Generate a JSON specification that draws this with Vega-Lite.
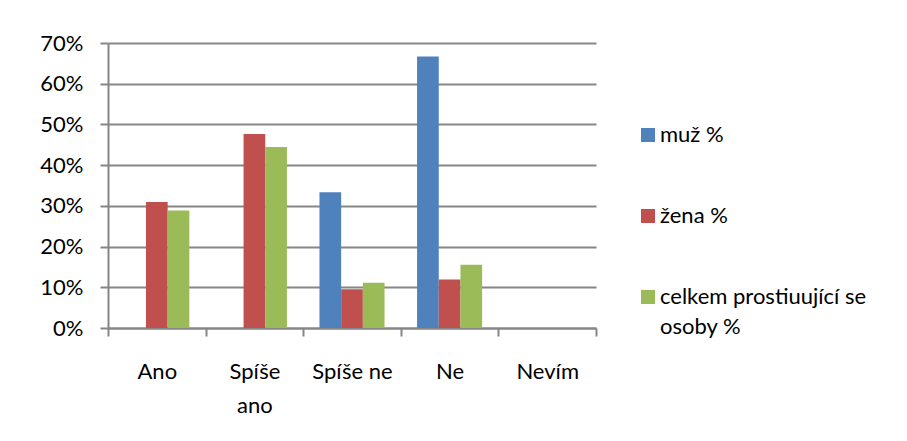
{
  "$schema": "https://vega.github.io/schema/vega-lite/v6.json",
  "autosize": "none",
  "width": 488,
  "height": 285,
  "padding": {"left": 108, "top": 43, "right": 311, "bottom": 113},
  "background": "white",
  "config": {
    "font": "Lato",
    "view": {"stroke": null},
    "axis": {"labelFont": "Lato", "labelFontSize": 22, "labelColor": "#000000"}
  },
  "data": {
    "values": [
      {"kategorie": "Ano", "serie": "muž %", "hodnota": 0},
      {"kategorie": "Ano", "serie": "žena %", "hodnota": 0.3095},
      {"kategorie": "Ano", "serie": "celkem prostiuující se osoby %", "hodnota": 0.2889},
      {"kategorie": "Spíše ano", "serie": "muž %", "hodnota": 0},
      {"kategorie": "Spíše ano", "serie": "žena %", "hodnota": 0.4762},
      {"kategorie": "Spíše ano", "serie": "celkem prostiuující se osoby %", "hodnota": 0.4444},
      {"kategorie": "Spíše ne", "serie": "muž %", "hodnota": 0.3333},
      {"kategorie": "Spíše ne", "serie": "žena %", "hodnota": 0.0952},
      {"kategorie": "Spíše ne", "serie": "celkem prostiuující se osoby %", "hodnota": 0.1111},
      {"kategorie": "Ne", "serie": "muž %", "hodnota": 0.6667},
      {"kategorie": "Ne", "serie": "žena %", "hodnota": 0.119},
      {"kategorie": "Ne", "serie": "celkem prostiuující se osoby %", "hodnota": 0.1556},
      {"kategorie": "Nevím", "serie": "muž %", "hodnota": 0},
      {"kategorie": "Nevím", "serie": "žena %", "hodnota": 0},
      {"kategorie": "Nevím", "serie": "celkem prostiuující se osoby %", "hodnota": 0}
    ]
  },
  "mark": {"type": "bar"},
  "encoding": {
    "x": {
      "field": "kategorie",
      "type": "nominal",
      "sort": ["Ano", "Spíše ano", "Spíše ne", "Ne", "Nevím"],
      "scale": {"paddingInner": 0, "paddingOuter": 0},
      "axis": {
        "title": null,
        "labelAngle": 0,
        "domainColor": "#868686",
        "domainWidth": 2,
        "tickColor": "#868686",
        "tickWidth": 2,
        "tickSize": 8,
        "tickBand": "extent",
        "labelPadding": 25,
        "labelLineHeight": 34,
        "labelExpr": "datum.label == 'Spíše ano' ? ['Spíše', 'ano'] : datum.label"
      }
    },
    "xOffset": {
      "field": "serie",
      "type": "nominal",
      "sort": ["muž %", "žena %", "celkem prostiuující se osoby %"],
      "scale": {"paddingInner": 0, "paddingOuter": 0.75}
    },
    "y": {
      "field": "hodnota",
      "type": "quantitative",
      "scale": {"domain": [0, 0.7], "nice": false},
      "axis": {
        "title": null,
        "format": ".0%",
        "values": [0, 0.1, 0.2, 0.3, 0.4, 0.5, 0.6, 0.7],
        "grid": true,
        "gridColor": "#868686",
        "gridWidth": 2,
        "domainColor": "#868686",
        "domainWidth": 2,
        "tickColor": "#868686",
        "tickWidth": 2,
        "tickSize": 8,
        "labelPadding": 17
      }
    },
    "color": {
      "field": "serie",
      "type": "nominal",
      "sort": ["muž %", "žena %", "celkem prostiuující se osoby %"],
      "scale": {
        "domain": ["muž %", "žena %", "celkem prostiuující se osoby %"],
        "range": ["#4F81BD", "#C0504D", "#9BBB59"]
      },
      "legend": {
        "title": null,
        "orient": "none",
        "legendX": 529,
        "legendY": 81,
        "symbolType": "square",
        "symbolSize": 196,
        "symbolStrokeWidth": 0,
        "labelFont": "Lato",
        "labelFontSize": 22,
        "labelColor": "#000000",
        "labelOffset": 1,
        "labelLimit": 400,
        "rowPadding": 59,
        "labelExpr": "datum.label == 'celkem prostiuující se osoby %' ? ['celkem prostiuující se', 'osoby %'] : datum.label",
        "encode": {
          "labels": {"update": {"lineHeight": {"value": 30}}}
        }
      }
    }
  }
}
